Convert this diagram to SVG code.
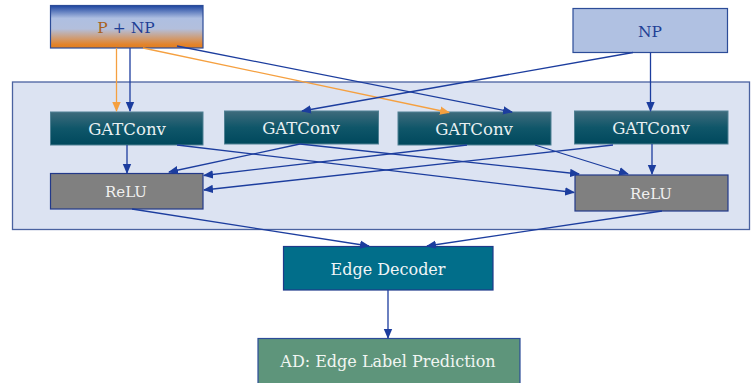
<svg xmlns="http://www.w3.org/2000/svg" width="752" height="383" viewBox="0 0 752 383">
  <defs>
    <linearGradient id="gradPNP" x1="0" y1="0" x2="0" y2="1">
      <stop offset="0" stop-color="#1d45a0"/>
      <stop offset="0.3" stop-color="#aebfe2"/>
      <stop offset="0.55" stop-color="#b3bfdc"/>
      <stop offset="0.92" stop-color="#e3832a"/>
      <stop offset="1" stop-color="#de7e22"/>
    </linearGradient>
    <linearGradient id="gradGat" x1="0" y1="0" x2="0" y2="1">
      <stop offset="0" stop-color="#3f6b7c"/>
      <stop offset="0.5" stop-color="#0f5669"/>
      <stop offset="1" stop-color="#00485d"/>
    </linearGradient>
    <marker id="arrowBlue" markerUnits="userSpaceOnUse" markerWidth="10" markerHeight="10" viewBox="0 0 10 10" refX="9" refY="5" orient="auto">
      <path d="M0,0.8 L10,5 L0,9.2 Z" fill="#1c3d9e"/>
    </marker>
    <marker id="arrowOrange" markerUnits="userSpaceOnUse" markerWidth="10" markerHeight="10" viewBox="0 0 10 10" refX="9" refY="5" orient="auto">
      <path d="M0,0.8 L10,5 L0,9.2 Z" fill="#f5a040"/>
    </marker>
  </defs>
  <style>
    text { font-family: "DejaVu Serif", "Liberation Serif", serif; text-anchor: middle; }
    .gat rect { fill: url(#gradGat); stroke: #4f8093; stroke-width: 1; }
    .gat text { fill: #e9f0f2; font-size: 16.5px; }
    .relu rect { fill: #808080; stroke: #22398a; stroke-width: 1.2; }
    .relu text { fill: #f0f0f0; font-size: 15px; }
    .link { fill: none; stroke: #1c3d9e; stroke-width: 1.3; marker-end: url(#arrowBlue); }
    .link-o { fill: none; stroke: #f5a040; stroke-width: 1.3; marker-end: url(#arrowOrange); }
  </style>

  <rect width="752" height="383" fill="#ffffff"/>

  <!-- encoder container -->
  <g id="encoder">
    <rect x="12.5" y="82" width="737" height="147.5" fill="#dce3f2" stroke="#4a62a0" stroke-width="1.3"/>
  </g>

  <!-- input nodes -->
  <g id="input-pnp">
    <rect x="50.5" y="5.5" width="152.5" height="42.5" fill="url(#gradPNP)" stroke="#2c4c98" stroke-width="1.2"/>
    <text x="126" y="33" font-size="15.5"><tspan fill="#a8621c">P</tspan><tspan fill="#1f3f95"> + NP</tspan></text>
  </g>
  <g id="input-np">
    <rect x="573" y="8.5" width="154.5" height="44" fill="#b0c1e2" stroke="#2c4c98" stroke-width="1.2"/>
    <text x="650" y="37" font-size="15.5" fill="#1f3f95">NP</text>
  </g>

  <!-- GATConv layer -->
  <g id="gat1" class="gat">
    <rect x="50.5" y="112" width="152.5" height="33"/>
    <text x="127" y="135">GATConv</text>
  </g>
  <g id="gat2" class="gat">
    <rect x="224.5" y="111" width="154" height="33"/>
    <text x="301" y="134">GATConv</text>
  </g>
  <g id="gat3" class="gat">
    <rect x="398" y="112" width="153" height="33"/>
    <text x="474" y="135">GATConv</text>
  </g>
  <g id="gat4" class="gat">
    <rect x="574.5" y="111" width="153.5" height="33"/>
    <text x="651" y="134">GATConv</text>
  </g>

  <!-- activations -->
  <g id="relu1" class="relu">
    <rect x="50.5" y="173.5" width="152.5" height="35.5"/>
    <text x="126" y="197">ReLU</text>
  </g>
  <g id="relu2" class="relu">
    <rect x="575" y="175" width="153" height="36"/>
    <text x="651" y="199">ReLU</text>
  </g>

  <!-- decoder and output -->
  <g id="edge-decoder">
    <rect x="283.5" y="246.5" width="209.5" height="43.5" fill="#016e8a" stroke="#1f3a8a" stroke-width="1.2"/>
    <text x="388" y="275" font-size="16" fill="#f1f5f7">Edge Decoder</text>
  </g>
  <g id="prediction">
    <rect x="258" y="338.5" width="262" height="46" fill="#5e957b" stroke="#2c4c98" stroke-width="1.2"/>
    <text x="388" y="367" font-size="16" fill="#f1f5f2">AD: Edge Label Prediction</text>
  </g>

  <!-- connectors -->
  <g id="connectors">
    <line class="link-o" x1="116.5" y1="48" x2="116.5" y2="111"/>
    <line class="link" x1="130" y1="48" x2="130" y2="111"/>
    <line class="link-o" x1="143" y1="48" x2="449" y2="112.5"/>
    <line class="link" x1="177" y1="46" x2="512" y2="112"/>
    <line class="link" x1="633" y1="52.5" x2="302" y2="111"/>
    <line class="link" x1="650.5" y1="52.5" x2="650.5" y2="111"/>

    <line class="link" x1="127" y1="145" x2="127" y2="173"/>
    <line class="link" x1="177" y1="145" x2="574" y2="192.5"/>
    <line class="link" x1="300" y1="144" x2="169" y2="172"/>
    <line class="link" x1="300" y1="144" x2="579" y2="174"/>
    <line class="link" x1="467" y1="145" x2="204" y2="175.5"/>
    <line class="link" x1="535" y1="145" x2="628" y2="174"/>
    <line class="link" x1="613" y1="145" x2="204" y2="190"/>
    <line class="link" x1="652" y1="144" x2="652" y2="174"/>

    <line class="link" x1="132" y1="209" x2="369" y2="246"/>
    <line class="link" x1="662" y1="211" x2="427" y2="246"/>
    <line class="link" x1="388" y1="290" x2="388" y2="338"/>
  </g>
</svg>
